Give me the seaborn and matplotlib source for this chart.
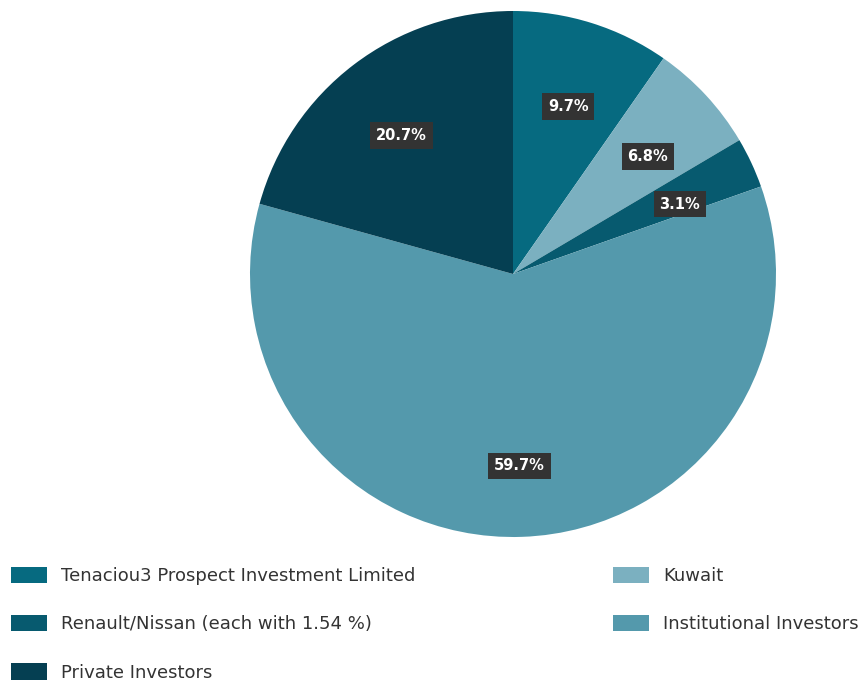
import matplotlib
matplotlib.use("Agg")
import matplotlib.pyplot as plt
import seaborn as sns

# shareholder structure
labels = ["Tenaciou3 Prospect Investment Limited", "Kuwait",
          "Renault/Nissan (each with 1.54 %)", "Institutional Investors",
          "Private Investors"]
shares = [9.7, 6.8, 3.1, 59.7, 20.7]
colors = ["#066a80", "#7bb0c0", "#075a6f", "#5499ac", "#053f52"]

sns.set_theme(style="white")
plt.rcParams['font.family'] = ['DejaVu Sans']

fig = plt.figure(figsize=(8.66, 6.83), dpi=100)
ax = fig.add_axes([250 / 866, 146 / 683, 526 / 866, 526 / 683])

wedges, _, autotexts = ax.pie(
    shares, colors=colors, startangle=90, counterclock=False,
    autopct="%1.1f%%", pctdistance=0.70,
    wedgeprops=dict(linewidth=0),
    textprops=dict(color="white", fontsize=10.5, fontweight="bold"))
for t in autotexts:
    # labels sit a bit lower in the original
    x, y = t.get_position()
    t.set_position((x, y - 0.03))
    t.set_bbox(dict(boxstyle="square,pad=0.4", facecolor="#333333", edgecolor="none"))
ax.set_xlim(-1, 1)
ax.set_ylim(-1, 1)
ax.set_aspect("equal")
ax.axis("off")

# legend in two columns
fs = 13
px = fs * 1.389  # font size in pixels
leg_kw = dict(loc="upper left", frameon=False, fontsize=fs, borderpad=0,
              handlelength=36 / px, handleheight=18 / px,
              handletextpad=14 / px,
              labelspacing=(48 - px) / px, labelcolor="#333333")
col1 = [0, 2, 4]
col2 = [1, 3]
fig.legend([wedges[i] for i in col1], [labels[i] for i in col1],
           bbox_to_anchor=(2 / 866, 1 - 558 / 683), **leg_kw)
fig.legend([wedges[i] for i in col2], [labels[i] for i in col2],
           bbox_to_anchor=(604 / 866, 1 - 558 / 683), **leg_kw)

fig.savefig("out.png", dpi=100)
